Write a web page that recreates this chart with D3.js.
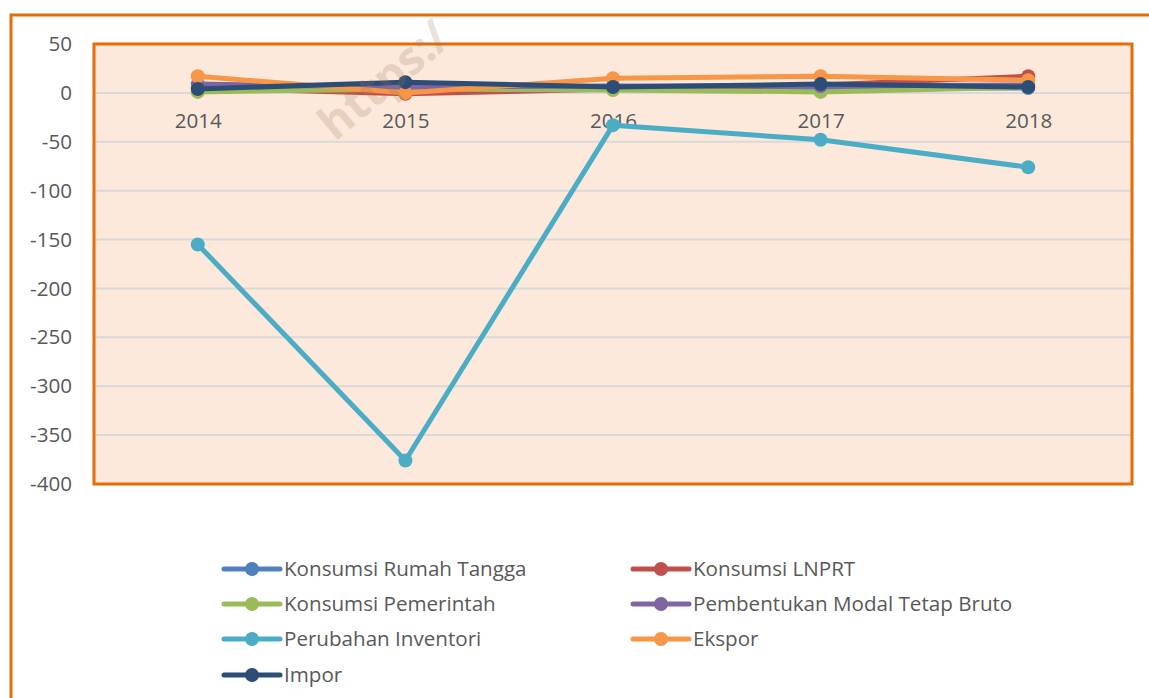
<!DOCTYPE html>
<html>
<head>
<meta charset="utf-8">
<script src="https://cdn.jsdelivr.net/npm/d3@7/dist/d3.min.js"></script>
<style>
  html, body { margin: 0; padding: 0; background: #ffffff; }
  svg { display: block; }
  text { font-family: "Open Sans", Lato, sans-serif; }
</style>
</head>
<body>
<svg id="chart" width="1149" height="698"></svg>
<script>
// ---- data ----
const years = ["2014", "2015", "2016", "2017", "2018"];
const yTicks = [50, 0, -50, -100, -150, -200, -250, -300, -350, -400];
const seriesNames = [
  "Konsumsi Rumah Tangga",
  "Konsumsi LNPRT",
  "Konsumsi Pemerintah",
  "Pembentukan Modal Tetap Bruto",
  "Perubahan Inventori",
  "Ekspor",
  "Impor"
];
const konsumsiRumahTangga = [5, 5, 5, 5, 5];
const konsumsiLNPRT = [5, -1, 4, 8, 17];
const konsumsiPemerintah = [1, 4, 3, 1, 6];
const pembentukanModalTetapBruto = [9, 6, 7, 7, 8];
const perubahanInventori = [-155, -376, -33, -48, -76];
const ekspor = [17, 0, 15, 17, 13];
const impor = [4, 11, 6, 9, 6];
const seriesColors = ["#4F81BD", "#C0504D", "#9BBB59", "#8064A2", "#4BACC6", "#F79646", "#2C4D75"];
const watermarkText = "https:/";

const seriesValues = [konsumsiRumahTangga, konsumsiLNPRT, konsumsiPemerintah,
  pembentukanModalTetapBruto, perubahanInventori, ekspor, impor];
const series = seriesNames.map((n, i) => ({ name: n, values: seriesValues[i], color: seriesColors[i] }));

// ---- layout ----
const svg = d3.select("#chart");
const plot = { left: 94, right: 1132, top: 44, bottom: 484 };
const orange = "#E46C0A";
const fontFam = "'Open Sans', Lato, sans-serif";
const fs = 20.6;

// outer frame
svg.append("path")
  .attr("d", `M11,${698 + 5} L11,15 L${1149 + 5},15`)
  .attr("fill", "none").attr("stroke", orange).attr("stroke-width", 3);

const x = d3.scalePoint().domain(years).range([plot.left, plot.right]).padding(0.5);
const y = d3.scaleLinear().domain([-400, 50]).range([plot.bottom, plot.top]);

// plot background
svg.append("rect")
  .attr("x", plot.left).attr("y", plot.top)
  .attr("width", plot.right - plot.left).attr("height", plot.bottom - plot.top)
  .attr("fill", "#FCE9DB");

// gridlines
svg.append("g").selectAll("line").data(yTicks.filter(t => t !== 50 && t !== -400)).join("line")
  .attr("x1", plot.left).attr("x2", plot.right)
  .attr("y1", d => y(d)).attr("y2", d => y(d))
  .attr("stroke", "#D9D9D9").attr("stroke-width", 2);

// y axis labels
const yAxis = d3.axisLeft(y).tickValues(yTicks).tickSize(0).tickPadding(0)
  .tickFormat(d => String(d));
const yg = svg.append("g").attr("transform", `translate(72,0)`).call(yAxis);
yg.select(".domain").remove();
yg.selectAll("text").attr("font-size", fs).attr("fill", "#595959")
  .attr("font-family", fontFam);

// x axis labels at y=0
const xAxis = d3.axisBottom(x).tickSize(0).tickPadding(0);
const xg = svg.append("g").attr("transform", `translate(0,${y(0) + 20})`).call(xAxis);
xg.select(".domain").remove();
xg.selectAll("text").attr("font-size", fs).attr("fill", "#595959")
  .attr("font-family", fontFam);

// lines
const line = d3.line().x((d, i) => x(years[i])).y(d => y(d));
const sg = svg.append("g");
series.forEach(s => {
  const g = sg.append("g");
  g.append("path").attr("d", line(s.values))
    .attr("fill", "none").attr("stroke", s.color).attr("stroke-width", 5)
    .attr("stroke-linejoin", "round").attr("stroke-linecap", "round");
  g.selectAll("circle").data(s.values).join("circle")
    .attr("cx", (d, i) => x(years[i])).attr("cy", d => y(d)).attr("r", 7)
    .attr("fill", s.color);
});

// plot border
svg.append("rect")
  .attr("x", plot.left).attr("y", plot.top)
  .attr("width", plot.right - plot.left).attr("height", plot.bottom - plot.top)
  .attr("fill", "none").attr("stroke", orange).attr("stroke-width", 3);

// watermark
svg.append("text")
  .attr("transform", "translate(335,142) rotate(-40)")
  .attr("font-size", 46).attr("font-weight", "bold")
  .attr("fill", "#9C7A5E").attr("fill-opacity", 0.24)
  .attr("font-family", fontFam)
  .text(watermarkText);

// legend
const legCols = [224, 633];
const legRows = [569, 604, 639, 675];
const lg = svg.append("g");
series.forEach((s, i) => {
  const cx = legCols[i % 2];
  const cy = legRows[Math.floor(i / 2)];
  const g = lg.append("g").attr("transform", `translate(${cx},${cy})`);
  g.append("line").attr("x1", 0).attr("x2", 56).attr("y1", 0).attr("y2", 0)
    .attr("stroke", s.color).attr("stroke-width", 5).attr("stroke-linecap", "round");
  g.append("circle").attr("cx", 28).attr("cy", 0).attr("r", 7).attr("fill", s.color);
  g.append("text").attr("x", 60).attr("y", 0).attr("dy", "0.35em")
    .attr("font-size", fs).attr("fill", "#595959").attr("font-family", fontFam).text(s.name);
});
</script>
</body>
</html>
